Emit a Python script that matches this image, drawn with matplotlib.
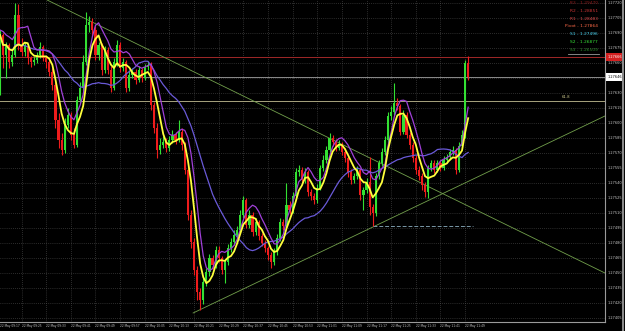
#!/usr/bin/env python3
"""M1 candlestick chart, GBPUSD-style dark terminal look."""

import matplotlib

matplotlib.use("Agg")
import matplotlib.pyplot as plt
import matplotlib.transforms as mtransforms
import numpy as np
import pandas as pd

# ---- data (prices as points above BASE, 1 point = 0.00001) ----
BASE = 1.27405
POINT = 0.00001

first_open_pts = 228
close_pts = [
    283, 263, 273, 256, 263, 303, 273, 266, 272, 260,
    256, 258, 263, 271, 260, 256, 246, 233, 198, 178,
    168, 193, 203, 183, 173, 218, 230, 256, 293, 296,
    288, 263, 273, 248, 268, 248, 230, 256, 273, 250,
    256, 230, 243, 246, 238, 248, 240, 251, 253, 213,
    190, 168, 173, 176, 170, 178, 183, 178, 186, 173,
    148, 103, 76, 48, 26, 18, 36, 46, 60, 53,
    68, 60, 48, 56, 70, 76, 83, 88, 103, 118,
    93, 103, 86, 96, 82, 75, 70, 63, 56, 66,
    80, 96, 92, 113, 108, 122, 146, 148, 138, 146,
    126, 122, 118, 130, 150, 158, 168, 180, 176, 170,
    173, 166, 160, 146, 138, 142, 148, 123, 128, 136,
    111, 105, 142, 155, 166, 178, 202, 206, 215, 212,
    186, 203, 183, 173, 160, 148, 142, 133, 126, 150,
    155, 148, 155, 150, 158, 161, 166, 168, 148, 172,
    183, 255, 241,
]
high_pts = [
    288, 285, 276, 275, 268, 315, 314, 280, 276, 274,
    262, 262, 266, 276, 273, 262, 258, 250, 236, 205,
    185, 200, 210, 206, 190, 222, 236, 263, 306, 302,
    300, 292, 276, 275, 272, 271, 252, 260, 278, 276,
    260, 258, 248, 250, 249, 252, 250, 254, 257, 256,
    216, 195, 180, 182, 180, 182, 188, 186, 198, 190,
    176, 152, 108, 80, 52, 30, 40, 50, 64, 63,
    72, 72, 62, 59, 74, 80, 88, 92, 108, 122,
    120, 108, 106, 100, 98, 85, 78, 72, 66, 70,
    84, 100, 99, 135, 117, 126, 150, 153, 151, 150,
    148, 129, 125, 134, 153, 163, 172, 185, 183, 179,
    178, 176, 170, 162, 149, 145, 152, 150, 131, 140,
    161, 114, 145, 158, 170, 182, 206, 212, 235, 220,
    214, 208, 206, 186, 176, 163, 152, 145, 136, 153,
    158, 158, 158, 158, 162, 164, 169, 172, 170, 176,
    188, 258, 262,
]
low_pts = [
    223, 250, 240, 250, 252, 261, 268, 262, 262, 254,
    251, 253, 255, 260, 257, 250, 242, 228, 190, 170,
    163, 165, 190, 178, 170, 171, 215, 227, 253, 286,
    282, 258, 258, 243, 245, 244, 226, 228, 252, 246,
    247, 226, 227, 240, 234, 236, 236, 238, 248, 208,
    185, 160, 164, 170, 166, 167, 175, 174, 176, 168,
    144, 98, 70, 43, 18, 8, 14, 32, 42, 49,
    50, 56, 44, 35, 53, 66, 73, 80, 86, 100,
    90, 90, 82, 83, 78, 72, 66, 58, 50, 53,
    63, 77, 88, 90, 104, 105, 120, 142, 134, 135,
    122, 118, 114, 115, 128, 147, 155, 166, 172, 167,
    168, 163, 156, 141, 134, 135, 139, 118, 108, 125,
    103, 92, 102, 139, 152, 163, 175, 198, 203, 208,
    183, 184, 180, 169, 156, 144, 138, 128, 121, 120,
    147, 145, 146, 147, 148, 155, 158, 163, 144, 146,
    170, 180, 238,
]

# time axis: bar 0 = 09:18, labels every 8 minutes from 09:17
time_labels = ["22 May 09:17", "22 May 09:25", "22 May 09:33", "22 May 09:41",
               "22 May 09:49", "22 May 09:57", "22 May 10:05", "22 May 10:13",
               "22 May 10:21", "22 May 10:29", "22 May 10:37", "22 May 10:45",
               "22 May 10:53", "22 May 11:01", "22 May 11:09", "22 May 11:17",
               "22 May 11:25", "22 May 11:33", "22 May 11:41", "22 May 11:49"]
time_label_pos = [-1 + 8 * k for k in range(len(time_labels))]

price_ticks = [1.27405 + 0.00015 * j for j in range(22)]

# pivot levels (legend top right)
pivot_names = ["R3", "R2", "R1", "Pivot", "S1", "S2", "S3"]
pivot_values = [1.29470, 1.28851, 1.28483, 1.27864, 1.27496, 1.26877, 1.26509]
pivot_colors = ["#8c1c1c", "#c83434", "#d84848", "#ff6a48", "#48d2f0", "#38e038", "#2a8a2a"]

# horizontal levels
red_level = 1.27666
bid_level = 1.27646
fib_level = 1.27622

# trend lines: (bar index, price) pairs
trend_down = [(15.3, 1.27723), (196.4, 1.27450)]
trend_up = [(62.7, 1.27410), (196.4, 1.27607)]
low_line = [(121.0, 1.27497), (153.5, 1.27497)]

BG = "black"
GRID = "#565656"
TXT = "#c8c8c8"
UP = "#33e033"
DOWN = "#ee1c1c"


def main():
    closes = BASE + np.array(close_pts) * POINT
    highs = BASE + np.array(high_pts) * POINT
    lows = BASE + np.array(low_pts) * POINT
    opens = np.concatenate([[BASE + first_open_pts * POINT], closes[:-1]])
    idx = np.arange(len(closes))

    fig = plt.figure(figsize=(6.25, 3.31), dpi=100, facecolor=BG)
    ax = fig.add_axes([0, 9 / 331, 605 / 625, 322 / 331])
    ax.set_facecolor(BG)
    ax.set_xlim(0, 605 / 3.08)
    ax.set_ylim(1.27401, 1.27723)
    for side in ["top", "left"]:
        ax.spines[side].set_visible(False)
    for side in ["right", "bottom"]:
        ax.spines[side].set_color("#9a9a9a")
        ax.spines[side].set_linewidth(0.8)
    ax.set_xticks([])
    ax.set_yticks([])

    # dotted grid
    for x in time_label_pos:
        ax.axvline(x, color=GRID, lw=0.5, ls=(0, (1, 2)), zorder=0)
    for p in price_ticks:
        ax.axhline(p, color=GRID, lw=0.5, ls=(0, (1, 2)), zorder=0)

    # horizontal levels
    ax.axhline(red_level, color="#a02828", lw=0.7, zorder=1)
    ax.axhline(bid_level, color="#8c8c8c", lw=0.7, zorder=1)
    ax.axhline(fib_level, color="#a8a47e", lw=0.7, zorder=1)
    ax.text(562 / 3.08, fib_level + 0.000015, "61.8", color="#c8c48a", fontsize=2.8,
            ha="left", va="bottom", zorder=5)

    # trend lines
    for line in (trend_down, trend_up):
        xs, ys = zip(*line)
        ax.plot(xs, ys, color="#72a04c", lw=0.6, zorder=2)
    xs, ys = zip(*low_line)
    ax.plot(xs, ys, color="#7a98a8", lw=0.7, ls=(0, (4, 2)), zorder=2)

    # candles
    colors = [UP if c >= o else DOWN for o, c in zip(opens, closes)]
    ax.vlines(idx, lows, highs, colors=colors, lw=0.8, zorder=3)
    body = closes - opens
    body = np.where(np.abs(body) < POINT, POINT, body)
    ax.bar(idx, body, bottom=opens, width=0.7, color=colors, linewidth=0, zorder=3)

    # moving averages
    s_close = pd.Series(closes)
    s_high = pd.Series(highs)
    ma_slow = s_close.rolling(21, min_periods=1).mean()
    ma_high = s_high.rolling(5, min_periods=1).mean()
    ma_fast = s_close.rolling(5, min_periods=1).mean()
    ax.plot(idx, ma_slow, color="#6a5ad8", lw=0.9, zorder=4)
    ax.plot(idx, ma_high, color="#a040d8", lw=0.9, zorder=4)
    ax.plot(idx, ma_fast, color="#ffff3c", lw=1.3, zorder=4)

    # right price axis labels
    ytrans = mtransforms.blended_transform_factory(ax.transAxes, ax.transData)
    for p in price_ticks:
        ax.text(1.004, p, f"{p:.5f}", transform=ytrans, color=TXT, fontsize=2.5,
                ha="left", va="center", clip_on=False)
    ax.text(1.004, red_level, f"{red_level:.5f}", transform=ytrans, color="white", fontsize=2.5,
            ha="left", va="center", clip_on=False, zorder=6,
            bbox=dict(boxstyle="square,pad=0.5", facecolor="#d42020", edgecolor="none"))
    ax.text(1.004, bid_level, f"{bid_level:.5f}", transform=ytrans, color="black", fontsize=2.5,
            ha="left", va="center", clip_on=False, zorder=6,
            bbox=dict(boxstyle="square,pad=0.5", facecolor="white", edgecolor="none"))

    # bottom time labels (first one nudged inside the frame)
    xtrans = mtransforms.blended_transform_factory(ax.transData, ax.transAxes)
    for pos, lab in zip(time_label_pos, time_labels):
        ax.text(max(pos, 0.1), -4 / 322, lab, transform=xtrans, color=TXT, fontsize=2.1,
                ha="left", va="center", clip_on=False)

    # pivot legend
    for k, (name, val, col) in enumerate(zip(pivot_names, pivot_values, pivot_colors)):
        fig.text(598 / 625, 1 - (3 + 7.8 * k) / 331, f"{name} - {val:.5f}", color=col,
                 fontsize=3.2, ha="right", va="center")
    fig.add_artist(plt.Line2D([568 / 625, 599 / 625], [1 - 54 / 331] * 2,
                              color="#9a9a9a", lw=0.6))

    # window border on the far right
    fig.add_artist(plt.Line2D([622.5 / 625] * 2, [0, 1], color="#8a8a8a", lw=1.5))

    plt.savefig("out.png", dpi=100, facecolor=BG)
    plt.close()


if __name__ == "__main__":
    main()
